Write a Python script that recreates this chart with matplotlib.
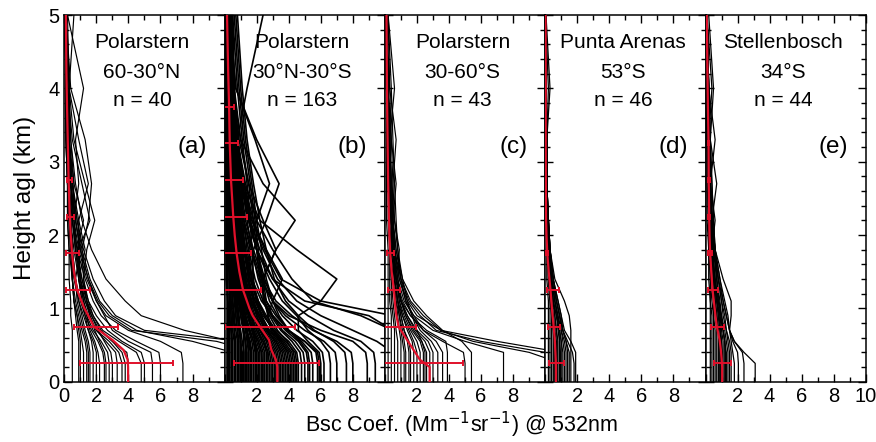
import numpy as np
import matplotlib
matplotlib.use("Agg")
import matplotlib.pyplot as plt
from matplotlib.ticker import MultipleLocator

plt.rcParams['font.family'] = ['Liberation Sans', 'DejaVu Sans']

HEIGHTS = [0, 0.25, 0.4, 0.55, 0.7, 0.9, 1.1, 1.4, 1.8, 2.2, 2.7, 3.3, 4.0, 5.0]

PROFILES_A = [
    [14, 14, 13, 11, 5.0, 3.2, 2.5, 1.8, 1.2, 0.8, 0.5, 0.3, 0.2, 0.1],
    [13, 13, 12, 9.5, 4.2, 2.8, 2.1, 1.5, 1.0, 0.7, 0.4, 0.3, 0.2, 0.1],
    [12, 12, 11.5, 10.5, 7.5, 4.8, 3.8, 2.6, 1.7, 1.1, 0.7, 0.4, 0.2, 0.1],
    [11, 11, 10.5, 8, 4.5, 3.0, 2.2, 1.6, 1.1, 0.8, 0.5, 0.3, 0.2, 0.1],
    [7.4, 7.4, 7.3, 6.0, 4.0, 2.6, 2.0, 1.4, 0.9, 0.6, 0.4, 0.3, 0.2, 0.1],
    [6.0, 6.0, 5.9, 4.5, 3.2, 2.3, 1.8, 1.3, 0.8, 0.5, 0.4, 0.3, 0.1, 0.05],
    [5.5, 5.5, 5.4, 4.0, 3.0, 2.5, 2.0, 1.5, 1.0, 0.7, 0.5, 0.3, 0.2, 0.1],
    [5.0, 5.0, 4.8, 3.6, 2.7, 2.0, 1.5, 1.1, 0.7, 0.5, 0.3, 0.2, 0.1, 0.05],
    [4.8, 4.8, 4.5, 3.4, 2.4, 1.8, 1.4, 1.0, 0.8, 1.2, 0.6, 0.3, 0.2, 0.1],
    [4.0, 4.0, 3.9, 3.0, 2.2, 1.7, 1.3, 0.9, 0.6, 0.4, 0.3, 0.2, 0.1, 0.05],
    [3.6, 3.6, 3.4, 2.8, 2.0, 1.5, 1.2, 0.9, 0.9, 1.6, 1.1, 0.5, 0.2, 0.1],
    [3.3, 3.3, 3.2, 2.6, 2.0, 1.6, 1.3, 1.0, 0.9, 0.9, 1.5, 0.9, 0.3, 0.1],
    [3.0, 3.0, 2.9, 2.5, 2.1, 1.7, 1.4, 1.1, 0.8, 0.6, 0.4, 0.3, 0.2, 0.1],
    [2.8, 2.8, 2.7, 2.3, 1.8, 1.4, 1.1, 0.9, 1.3, 0.9, 0.5, 0.3, 0.1, 0.05],
    [2.5, 2.5, 2.4, 2.1, 1.7, 1.3, 1.0, 0.7, 0.5, 0.4, 0.3, 0.2, 0.1, 0.05],
    [2.2, 2.2, 2.1, 1.9, 1.6, 1.4, 1.2, 1.0, 0.7, 0.6, 0.9, 0.7, 1.2, 0.2],
    [2.0, 2.0, 2.0, 1.8, 1.5, 1.2, 0.9, 0.6, 0.4, 0.3, 0.2, 0.15, 0.1, 0.05],
    [1.6, 1.6, 1.6, 1.5, 1.3, 1.1, 0.9, 0.7, 0.5, 0.4, 0.3, 0.2, 0.1, 0.05],
    [1.5, 1.5, 1.5, 1.4, 1.2, 1.0, 0.8, 0.7, 1.0, 0.7, 0.4, 0.2, 0.1, 0.05],
    [1.4, 1.4, 1.4, 1.3, 1.1, 0.9, 0.7, 0.5, 0.4, 0.3, 0.2, 0.1, 0.1, 0.05],
    [1.0, 1.0, 1.0, 1.0, 0.9, 0.8, 0.6, 0.5, 0.3, 0.2, 0.2, 0.1, 0.05, 0.05],
    [0.5, 0.5, 0.5, 0.5, 0.5, 0.4, 0.4, 0.3, 0.3, 0.2, 0.2, 0.1, 0.1, 0.05],
    [3.8, 3.8, 3.6, 3.0, 2.3, 1.8, 1.5, 1.2, 1.4, 1.9, 1.3, 0.6, 0.3, 0.1],
    [2.6, 2.6, 2.5, 2.2, 1.9, 1.6, 1.4, 1.2, 1.1, 1.5, 1.7, 1.3, 0.4, 0.1],
    [1.8, 1.8, 1.8, 1.7, 1.5, 1.3, 1.1, 0.9, 0.7, 0.5, 0.6, 0.4, 0.3, 0.2],
    [0.9, 0.9, 0.9, 0.9, 0.8, 0.7, 0.6, 0.5, 0.5, 0.4, 0.3, 0.3, 0.2, 0.1],
    [1.2, 1.2, 1.2, 1.1, 1.0, 0.8, 0.6, 0.5, 0.4, 0.3, 0.2, 0.3, 0.3, 0.6],
]

PROFILES_B = [
    [8.9, 8.9, 8.8, 8.0, 6.0, 4.0, 3.0, 2.2, 1.6, 1.2, 0.9, 0.6, 0.4, 0.2],
    [8.0, 8.0, 7.9, 7.0, 5.5, 4.2, 3.2, 2.4, 1.8, 1.3, 1.0, 0.7, 0.4, 0.2],
    [12, 12, 12, 11.5, 11, 10.5, 6.0, 3.5, 2.5, 1.8, 1.2, 0.8, 0.5, 0.3],
    [12, 12, 12, 11, 10.5, 9.0, 5.0, 3.0, 2.0, 1.5, 1.0, 0.7, 0.4, 0.2],
    [11, 11, 11, 11, 10.5, 8.5, 5.5, 4.2, 3.0, 2.0, 1.3, 0.8, 0.5, 0.3],
    [6.2, 6.2, 6.1, 5.5, 4.5, 3.6, 3.0, 2.3, 1.7, 1.2, 0.9, 0.6, 0.4, 0.2],
    [6.0, 6.0, 5.9, 5.2, 4.6, 4.6, 6.0, 7.0, 4.5, 2.2, 1.2, 0.7, 0.4, 0.2],
    [5.8, 5.8, 5.7, 5.0, 4.0, 3.2, 2.6, 2.4, 3.2, 4.4, 2.4, 1.0, 0.5, 0.2],
    [5.5, 5.5, 5.4, 4.8, 4.0, 3.3, 2.8, 2.4, 2.0, 1.6, 1.2, 0.8, 0.5, 0.3],
    [5.2, 5.2, 5.1, 4.6, 3.8, 3.0, 2.4, 1.9, 1.5, 1.1, 0.8, 0.6, 0.4, 0.2],
    [5.0, 5.0, 4.9, 4.4, 3.6, 3.0, 2.6, 2.1, 1.7, 1.4, 1.1, 0.8, 0.5, 0.3],
    [4.8, 4.8, 4.7, 4.2, 3.5, 2.9, 2.5, 2.2, 2.0, 1.8, 1.5, 1.0, 0.6, 0.3],
    [4.6, 4.6, 4.5, 4.0, 3.2, 2.6, 2.1, 1.6, 1.2, 0.9, 0.7, 0.5, 0.3, 0.2],
    [4.4, 4.4, 4.3, 3.9, 3.3, 2.8, 2.4, 2.4, 3.2, 2.4, 1.5, 0.9, 0.5, 0.3],
    [4.2, 4.2, 4.1, 3.6, 3.0, 2.5, 2.0, 1.6, 1.3, 1.0, 0.8, 0.6, 0.4, 0.2],
    [4.0, 4.0, 3.9, 3.5, 3.0, 2.5, 2.1, 1.7, 1.5, 2.0, 2.8, 1.9, 0.7, 0.3],
    [3.8, 3.8, 3.7, 3.3, 2.8, 2.3, 1.9, 1.5, 1.2, 0.9, 0.7, 0.5, 0.3, 0.2],
    [3.6, 3.6, 3.5, 3.2, 2.7, 2.3, 2.0, 1.7, 1.4, 1.2, 1.0, 0.7, 0.4, 0.2],
    [3.4, 3.4, 3.3, 3.0, 2.6, 2.2, 1.8, 1.4, 1.1, 0.8, 0.6, 0.4, 0.3, 0.2],
    [3.3, 3.3, 3.2, 2.9, 2.5, 2.1, 1.8, 1.5, 1.2, 1.0, 0.8, 0.6, 0.4, 0.3],
    [3.2, 3.2, 3.1, 2.8, 2.4, 2.0, 1.7, 1.3, 1.0, 0.8, 0.6, 0.4, 0.3, 0.2],
    [3.0, 3.0, 2.9, 2.7, 2.3, 1.9, 1.6, 1.3, 1.1, 0.9, 0.7, 0.5, 0.3, 0.2],
    [2.9, 2.9, 2.8, 2.6, 2.3, 2.0, 1.8, 1.7, 1.8, 2.6, 3.4, 2.0, 0.7, 0.3],
    [2.8, 2.8, 2.7, 2.5, 2.2, 1.8, 1.5, 1.2, 0.9, 0.7, 0.5, 0.4, 0.3, 0.2],
    [2.6, 2.6, 2.6, 2.4, 2.1, 1.8, 1.5, 1.2, 1.0, 0.8, 0.6, 0.5, 0.3, 0.2],
    [2.5, 2.5, 2.5, 2.3, 2.0, 1.7, 1.4, 1.1, 0.9, 0.7, 0.6, 0.4, 0.3, 0.2],
    [2.4, 2.4, 2.4, 2.2, 1.9, 1.6, 1.3, 1.0, 0.8, 0.6, 0.5, 0.4, 0.3, 0.2],
    [2.2, 2.2, 2.2, 2.0, 1.8, 1.5, 1.3, 1.1, 0.9, 0.8, 0.6, 0.5, 0.3, 0.2],
    [2.1, 2.1, 2.1, 1.9, 1.7, 1.4, 1.2, 1.0, 0.8, 0.6, 0.5, 0.4, 0.3, 0.1],
    [2.0, 2.0, 2.0, 1.9, 1.7, 1.5, 1.3, 1.2, 1.1, 1.0, 0.9, 0.7, 0.5, 0.3],
    [1.9, 1.9, 1.9, 1.8, 1.6, 1.3, 1.1, 0.9, 0.7, 0.6, 0.5, 0.3, 0.2, 0.1],
    [1.8, 1.8, 1.8, 1.7, 1.5, 1.3, 1.1, 0.9, 0.8, 0.7, 0.6, 0.5, 0.4, 0.3],
    [1.7, 1.7, 1.7, 1.6, 1.4, 1.2, 1.0, 0.8, 0.6, 0.5, 0.4, 0.3, 0.2, 0.1],
    [1.6, 1.6, 1.6, 1.5, 1.4, 1.2, 1.1, 1.0, 0.9, 0.8, 0.7, 0.6, 0.5, 0.4],
    [1.5, 1.5, 1.5, 1.4, 1.3, 1.1, 0.9, 0.8, 0.6, 0.5, 0.4, 0.3, 0.2, 0.1],
    [1.4, 1.4, 1.4, 1.3, 1.2, 1.0, 0.9, 0.7, 0.6, 0.5, 0.4, 0.3, 0.2, 0.2],
    [1.3, 1.3, 1.3, 1.3, 1.2, 1.1, 1.0, 0.9, 0.8, 0.7, 0.6, 0.5, 0.4, 0.3],
    [1.2, 1.2, 1.2, 1.1, 1.0, 0.9, 0.8, 0.7, 0.6, 0.5, 0.4, 0.3, 0.2, 0.1],
    [1.1, 1.1, 1.1, 1.0, 0.9, 0.8, 0.7, 0.6, 0.5, 0.4, 0.4, 0.3, 0.3, 0.2],
    [1.0, 1.0, 1.0, 1.0, 0.9, 0.8, 0.7, 0.6, 0.5, 0.4, 0.3, 0.2, 0.2, 0.1],
    [0.9, 0.9, 0.9, 0.9, 0.8, 0.7, 0.6, 0.5, 0.4, 0.4, 0.3, 0.3, 0.2, 0.2],
    [0.8, 0.8, 0.8, 0.8, 0.7, 0.6, 0.5, 0.5, 0.4, 0.3, 0.3, 0.2, 0.2, 0.1],
    [0.7, 0.7, 0.7, 0.7, 0.6, 0.6, 0.5, 0.4, 0.4, 0.3, 0.3, 0.2, 0.2, 0.1],
    [0.6, 0.6, 0.6, 0.6, 0.5, 0.5, 0.4, 0.4, 0.3, 0.3, 0.2, 0.2, 0.1, 0.1],
    [0.5, 0.5, 0.5, 0.5, 0.4, 0.4, 0.4, 0.3, 0.3, 0.2, 0.2, 0.2, 0.1, 0.1],
    [0.4, 0.4, 0.4, 0.4, 0.4, 0.3, 0.3, 0.3, 0.2, 0.2, 0.2, 0.1, 0.1, 0.1],
    [0.3, 0.3, 0.3, 0.3, 0.3, 0.3, 0.2, 0.2, 0.2, 0.2, 0.1, 0.1, 0.1, 0.05],
    [0.2, 0.2, 0.2, 0.2, 0.2, 0.2, 0.2, 0.1, 0.1, 0.1, 0.1, 0.1, 0.05, 0.05],
    [3.9, 3.9, 3.8, 3.4, 2.9, 2.7, 3.0, 3.6, 2.6, 1.7, 1.0, 0.6, 0.3, 0.2],
    [7.0, 7.0, 6.9, 6.2, 5.0, 3.8, 3.0, 2.5, 2.0, 1.5, 1.1, 0.8, 0.6, 0.3],
    [2.3, 2.3, 2.3, 2.1, 1.8, 1.5, 1.3, 1.1, 0.9, 0.8, 0.7, 0.8, 1.4, 2.4],
    [9.4, 9.4, 9.3, 8.5, 6.8, 5.2, 4.0, 3.0, 2.2, 1.6, 1.1, 0.8, 0.5, 0.3],
    [6.6, 6.6, 6.5, 6.0, 5.2, 4.5, 3.6, 2.8, 2.0, 1.5, 1.1, 0.8, 0.5, 0.3],
    [11, 11, 10.5, 9.5, 8.0, 6.0, 4.5, 3.3, 2.4, 1.7, 1.2, 0.8, 0.5, 0.3],
    [3.5, 3.5, 3.4, 3.1, 2.7, 2.3, 2.0, 1.8, 1.7, 1.6, 1.4, 1.1, 0.8, 0.5],
    [5.9, 5.9, 5.8, 5.0, 3.9, 3.0, 2.3, 1.7, 1.3, 1.0, 0.8, 0.6, 0.4, 0.3],
    [4.5, 4.5, 4.4, 3.8, 3.1, 2.4, 1.9, 1.4, 1.0, 0.8, 0.6, 0.5, 0.35, 0.25],
    [4.1, 4.1, 4.0, 3.5, 2.8, 2.2, 1.7, 1.3, 1.0, 0.75, 0.55, 0.45, 0.35, 0.2],
    [3.7, 3.7, 3.6, 3.2, 2.6, 2.1, 1.6, 1.25, 0.95, 0.7, 0.5, 0.4, 0.3, 0.2],
    [3.1, 3.1, 3.0, 2.7, 2.2, 1.8, 1.4, 1.1, 0.85, 0.65, 0.5, 0.4, 0.3, 0.2],
    [2.7, 2.7, 2.7, 2.4, 2.0, 1.6, 1.3, 1.0, 0.8, 0.6, 0.45, 0.35, 0.25, 0.15],
    [2.35, 2.35, 2.3, 2.1, 1.8, 1.5, 1.2, 0.95, 0.75, 0.55, 0.45, 0.35, 0.25, 0.15],
    [1.95, 1.95, 1.95, 1.8, 1.55, 1.3, 1.05, 0.85, 0.65, 0.5, 0.4, 0.3, 0.2, 0.15],
    [1.65, 1.65, 1.65, 1.55, 1.35, 1.15, 0.95, 0.75, 0.6, 0.45, 0.35, 0.25, 0.2, 0.1],
    [1.35, 1.35, 1.35, 1.3, 1.15, 1.0, 0.85, 0.7, 0.55, 0.45, 0.35, 0.3, 0.25, 0.2],
    [1.05, 1.05, 1.05, 1.0, 0.95, 0.85, 0.75, 0.65, 0.55, 0.45, 0.4, 0.35, 0.3, 0.25],
    [0.85, 0.85, 0.85, 0.85, 0.8, 0.7, 0.65, 0.55, 0.5, 0.45, 0.4, 0.35, 0.3, 0.2],
    [0.65, 0.65, 0.65, 0.65, 0.6, 0.55, 0.5, 0.45, 0.4, 0.35, 0.3, 0.25, 0.2, 0.15],
    [0.45, 0.45, 0.45, 0.45, 0.45, 0.4, 0.35, 0.35, 0.3, 0.25, 0.25, 0.2, 0.15, 0.1],
    [0.25, 0.25, 0.25, 0.25, 0.25, 0.25, 0.2, 0.2, 0.2, 0.15, 0.15, 0.1, 0.1, 0.08],
    [0.15, 0.15, 0.15, 0.15, 0.15, 0.15, 0.15, 0.15, 0.1, 0.1, 0.1, 0.08, 0.06, 0.04],
    [2.0, 2.0, 2.0, 1.9, 1.8, 1.7, 1.6, 1.5, 1.3, 1.1, 0.9, 0.7, 0.6, 0.5],
    [1.5, 1.5, 1.5, 1.45, 1.4, 1.3, 1.2, 1.1, 1.0, 0.9, 0.8, 0.7, 0.6, 0.45],
    [1.2, 1.2, 1.2, 1.2, 1.15, 1.1, 1.05, 1.0, 0.9, 0.8, 0.7, 0.6, 0.5, 0.4],
    [4.3, 4.3, 4.2, 3.7, 3.0, 2.7, 2.5, 2.3, 2.1, 1.9, 1.6, 1.2, 0.9, 0.6],
    [5.3, 5.3, 5.2, 4.7, 4.0, 3.4, 3.0, 2.6, 2.3, 2.0, 1.7, 1.3, 1.0, 0.7],
    [7.6, 7.6, 7.5, 6.8, 5.6, 4.6, 3.8, 3.1, 2.6, 2.2, 1.8, 1.4, 1.1, 0.8],
]

PROFILES_C = [
    [12, 12, 11, 7.0, 3.5, 2.0, 1.4, 0.9, 0.6, 0.4, 0.3, 0.2, 0.1, 0.05],
    [12, 12, 10, 6.0, 3.2, 2.2, 1.5, 1.0, 0.7, 0.5, 0.3, 0.2, 0.1, 0.05],
    [11, 11, 9.0, 5.5, 3.5, 2.4, 1.6, 1.0, 0.6, 0.4, 0.3, 0.2, 0.1, 0.05],
    [7.4, 7.4, 7.4, 5.0, 3.0, 1.8, 1.2, 0.8, 0.5, 0.4, 0.3, 0.2, 0.1, 0.05],
    [5.4, 5.4, 5.4, 4.8, 3.6, 2.6, 1.8, 1.1, 0.7, 0.5, 0.4, 0.3, 0.2, 0.1],
    [5.0, 5.0, 4.9, 3.6, 2.4, 1.6, 1.1, 0.7, 0.5, 0.4, 0.3, 0.2, 0.1, 0.05],
    [3.9, 3.9, 3.9, 3.8, 2.6, 1.6, 1.0, 0.7, 0.5, 0.4, 0.3, 0.2, 0.1, 0.05],
    [3.6, 3.6, 3.6, 3.2, 2.4, 1.8, 1.3, 0.9, 0.6, 0.5, 0.4, 0.3, 0.2, 0.1],
    [3.0, 3.0, 3.0, 2.7, 2.0, 1.4, 1.0, 0.7, 0.5, 0.4, 0.3, 0.2, 0.2, 0.1],
    [2.8, 2.8, 2.8, 2.5, 1.9, 1.4, 1.0, 0.8, 0.6, 0.5, 0.7, 0.4, 0.2, 0.1],
    [2.6, 2.6, 2.6, 2.3, 1.8, 1.3, 1.0, 0.7, 0.5, 0.4, 0.3, 0.3, 0.2, 0.1],
    [2.4, 2.4, 2.4, 2.2, 1.7, 1.3, 1.0, 0.8, 0.9, 0.6, 0.4, 0.3, 0.2, 0.1],
    [2.2, 2.2, 2.2, 2.0, 1.6, 1.2, 0.9, 0.7, 0.5, 0.4, 0.3, 0.3, 0.6, 0.2],
    [2.0, 2.0, 2.0, 1.8, 1.5, 1.1, 0.8, 0.6, 0.5, 0.4, 0.3, 0.2, 0.2, 0.1],
    [1.8, 1.8, 1.8, 1.7, 1.4, 1.1, 0.9, 0.7, 0.6, 0.5, 0.4, 0.3, 0.2, 0.1],
    [1.6, 1.6, 1.6, 1.5, 1.2, 1.0, 0.8, 0.6, 0.5, 0.4, 0.5, 0.4, 0.3, 0.2],
    [1.5, 1.5, 1.5, 1.4, 1.2, 1.0, 0.8, 0.6, 0.5, 0.4, 0.3, 0.2, 0.1, 0.1],
    [1.3, 1.3, 1.3, 1.2, 1.1, 0.9, 0.8, 0.6, 0.5, 0.4, 0.3, 0.2, 0.2, 0.1],
    [1.2, 1.2, 1.2, 1.1, 1.0, 0.9, 0.7, 0.6, 0.4, 0.4, 0.3, 0.3, 0.2, 0.1],
    [1.0, 1.0, 1.0, 1.0, 0.9, 0.8, 0.7, 0.5, 0.4, 0.3, 0.3, 0.2, 0.2, 0.1],
    [0.8, 0.8, 0.8, 0.8, 0.7, 0.6, 0.5, 0.4, 0.3, 0.3, 0.2, 0.2, 0.1, 0.1],
    [0.6, 0.6, 0.6, 0.6, 0.6, 0.5, 0.4, 0.4, 0.3, 0.3, 0.2, 0.2, 0.1, 0.1],
    [0.4, 0.4, 0.4, 0.4, 0.4, 0.4, 0.3, 0.3, 0.3, 0.2, 0.2, 0.1, 0.1, 0.05],
    [0.2, 0.2, 0.2, 0.2, 0.2, 0.2, 0.2, 0.2, 0.2, 0.1, 0.1, 0.1, 0.1, 0.05],
    [3.3, 3.3, 3.3, 2.9, 2.2, 1.7, 1.3, 1.0, 0.8, 0.7, 0.6, 0.5, 0.4, 0.2],
    [2.5, 2.5, 2.5, 2.3, 2.0, 1.7, 1.4, 1.1, 0.8, 0.6, 0.5, 0.7, 0.3, 0.1],
]

PROFILES_D = [
    [1.9, 1.9, 1.9, 1.6, 1.2, 1.0, 0.8, 0.5, 0.3, 0.2, 0.1, 0.1, 0.05, 0.02],
    [1.6, 1.6, 1.6, 1.6, 1.6, 1.5, 1.2, 0.6, 0.3, 0.2, 0.1, 0.1, 0.05, 0.02],
    [1.8, 1.8, 1.7, 1.4, 1.1, 0.9, 0.7, 0.4, 0.2, 0.1, 0.1, 0.05, 0.05, 0.02],
    [1.5, 1.5, 1.5, 1.3, 1.1, 0.9, 0.7, 0.5, 0.3, 0.2, 0.1, 0.1, 0.05, 0.02],
    [1.4, 1.4, 1.4, 1.3, 1.1, 1.0, 0.8, 0.5, 0.3, 0.2, 0.1, 0.1, 0.05, 0.02],
    [1.3, 1.3, 1.3, 1.2, 1.0, 0.9, 0.7, 0.5, 0.3, 0.2, 0.1, 0.05, 0.05, 0.02],
    [1.2, 1.2, 1.2, 1.1, 1.0, 0.8, 0.6, 0.4, 0.2, 0.1, 0.1, 0.1, 0.3, 0.05],
    [1.1, 1.1, 1.1, 1.0, 0.9, 0.8, 0.6, 0.4, 0.3, 0.2, 0.1, 0.1, 0.05, 0.02],
    [1.0, 1.0, 1.0, 1.0, 0.9, 0.7, 0.5, 0.3, 0.2, 0.1, 0.1, 0.05, 0.05, 0.02],
    [0.9, 0.9, 0.9, 0.9, 0.8, 0.7, 0.5, 0.3, 0.2, 0.1, 0.1, 0.05, 0.05, 0.02],
    [0.8, 0.8, 0.8, 0.8, 0.7, 0.6, 0.5, 0.3, 0.2, 0.1, 0.1, 0.05, 0.05, 0.02],
    [0.7, 0.7, 0.7, 0.7, 0.6, 0.5, 0.4, 0.3, 0.2, 0.1, 0.05, 0.05, 0.05, 0.02],
    [0.6, 0.6, 0.6, 0.6, 0.6, 0.5, 0.4, 0.3, 0.2, 0.1, 0.1, 0.05, 0.02, 0.02],
    [0.5, 0.5, 0.5, 0.5, 0.5, 0.4, 0.4, 0.3, 0.2, 0.1, 0.1, 0.05, 0.02, 0.02],
    [0.4, 0.4, 0.4, 0.4, 0.4, 0.4, 0.3, 0.2, 0.2, 0.1, 0.05, 0.05, 0.02, 0.02],
    [0.3, 0.3, 0.3, 0.3, 0.3, 0.3, 0.3, 0.2, 0.1, 0.1, 0.05, 0.05, 0.02, 0.02],
    [0.2, 0.2, 0.2, 0.2, 0.2, 0.2, 0.2, 0.1, 0.1, 0.05, 0.05, 0.02, 0.02, 0.02],
    [0.95, 0.95, 0.95, 0.9, 0.85, 0.75, 0.6, 0.4, 0.25, 0.15, 0.1, 0.05, 0.05, 0.02],
    [0.75, 0.75, 0.75, 0.75, 0.7, 0.6, 0.5, 0.35, 0.2, 0.1, 0.05, 0.05, 0.05, 0.02],
    [0.55, 0.55, 0.55, 0.55, 0.5, 0.45, 0.4, 0.3, 0.2, 0.1, 0.1, 0.1, 0.2, 0.02],
]

PROFILES_E = [
    [3.1, 3.1, 2.4, 1.8, 1.5, 1.3, 1.1, 0.8, 0.5, 0.4, 0.3, 0.2, 0.2, 0.1],
    [2.4, 2.4, 2.3, 1.8, 1.5, 1.3, 1.1, 0.9, 0.6, 0.5, 0.4, 0.3, 0.2, 0.1],
    [2.05, 2.05, 2.0, 1.7, 1.5, 1.4, 1.2, 0.9, 0.6, 0.4, 0.3, 0.2, 0.1, 0.1],
    [1.8, 1.8, 1.7, 1.6, 1.5, 1.6, 1.6, 1.1, 0.6, 0.4, 0.3, 0.3, 0.2, 0.1],
    [1.6, 1.6, 1.6, 1.5, 1.3, 1.2, 1.0, 0.8, 0.6, 0.5, 0.4, 0.3, 0.5, 0.2],
    [1.5, 1.5, 1.5, 1.4, 1.3, 1.1, 1.0, 0.8, 0.5, 0.4, 0.7, 0.3, 0.2, 0.1],
    [1.4, 1.4, 1.4, 1.3, 1.2, 1.0, 0.9, 0.7, 0.5, 0.4, 0.3, 0.2, 0.2, 0.1],
    [1.3, 1.3, 1.3, 1.2, 1.1, 1.0, 0.8, 0.7, 0.6, 0.4, 0.3, 0.6, 0.2, 0.1],
    [1.2, 1.2, 1.2, 1.2, 1.1, 0.9, 0.8, 0.6, 0.4, 0.3, 0.3, 0.2, 0.1, 0.1],
    [1.1, 1.1, 1.1, 1.1, 1.0, 0.9, 0.7, 0.6, 0.4, 0.6, 0.3, 0.2, 0.1, 0.1],
    [1.0, 1.0, 1.0, 1.0, 0.9, 0.8, 0.7, 0.5, 0.4, 0.3, 0.2, 0.2, 0.1, 0.05],
    [0.9, 0.9, 0.9, 0.9, 0.8, 0.7, 0.6, 0.5, 0.4, 0.3, 0.2, 0.2, 0.4, 0.1],
    [0.8, 0.8, 0.8, 0.8, 0.8, 0.7, 0.6, 0.5, 0.4, 0.3, 0.3, 0.2, 0.1, 0.05],
    [0.7, 0.7, 0.7, 0.7, 0.7, 0.6, 0.5, 0.4, 0.3, 0.3, 0.2, 0.2, 0.1, 0.05],
    [0.6, 0.6, 0.6, 0.6, 0.6, 0.5, 0.5, 0.4, 0.3, 0.2, 0.2, 0.1, 0.1, 0.05],
    [0.5, 0.5, 0.5, 0.5, 0.5, 0.5, 0.4, 0.3, 0.3, 0.2, 0.2, 0.1, 0.1, 0.05],
    [0.4, 0.4, 0.4, 0.4, 0.4, 0.4, 0.3, 0.3, 0.2, 0.2, 0.1, 0.1, 0.1, 0.05],
    [0.3, 0.3, 0.3, 0.3, 0.3, 0.3, 0.3, 0.2, 0.2, 0.1, 0.1, 0.1, 0.05, 0.05],
    [1.25, 1.25, 1.25, 1.2, 1.1, 0.95, 0.85, 0.7, 0.5, 0.35, 0.25, 0.2, 0.15, 0.1],
    [1.05, 1.05, 1.05, 1.0, 0.95, 0.85, 0.75, 0.6, 0.45, 0.35, 0.3, 0.25, 0.2, 0.1],
    [0.95, 0.95, 0.95, 0.95, 0.9, 0.8, 0.7, 0.55, 0.4, 0.3, 0.25, 0.2, 0.15, 0.1],
    [0.85, 0.85, 0.85, 0.85, 0.8, 0.7, 0.6, 0.5, 0.35, 0.3, 0.25, 0.2, 0.15, 0.1],
]

# mean profiles (red)
MEAN_HEIGHTS = [0, 0.2, 0.3, 0.43, 0.57, 0.75, 0.9, 1.0, 1.25, 1.5, 1.75, 2.0, 2.25, 2.75, 3.25, 3.75, 4.25, 5.0]
MEAN_A = [3.98, 3.98, 3.95, 3.7, 3.0, 1.85, 1.5, 1.25, 0.8, 0.6, 0.48, 0.4, 0.34, 0.27, 0.22, 0.17, 0.13, 0.1]
MEAN_B = [3.29, 3.29, 3.2, 2.92, 2.77, 2.2, 1.75, 1.55, 1.15, 0.92, 0.75, 0.63, 0.54, 0.4, 0.32, 0.28, 0.22, 0.15]
MEAN_C = [2.79, 2.79, 2.18, 1.8, 1.38, 0.85, 0.72, 0.66, 0.56, 0.42, 0.33, 0.28, 0.25, 0.2, 0.17, 0.14, 0.12, 0.1]
MEAN_D = [0.67, 0.67, 0.66, 0.63, 0.6, 0.53, 0.46, 0.42, 0.33, 0.22, 0.13, 0.08, 0.05, 0.04, 0.03, 0.03, 0.03, 0.02]
MEAN_E = [1.04, 1.04, 1.01, 0.96, 0.88, 0.71, 0.62, 0.57, 0.44, 0.36, 0.29, 0.25, 0.23, 0.2, 0.19, 0.15, 0.12, 0.08]

# error bars (layer mean +- std)
BAR_HEIGHTS = [0.25, 0.75, 1.25, 1.75, 2.25, 2.75, 3.25, 3.75]
BAR_A = [3.9, 1.95, 0.85, 0.51, 0.37, 0.32]
STD_A = [2.9, 1.37, 0.73, 0.39, 0.21, 0.16]
BAR_B = [3.25, 2.2, 1.1, 0.75, 0.54, 0.4, 0.3, 0.28]
STD_B = [2.65, 2.2, 1.17, 0.89, 0.84, 0.77, 0.55, 0.32]
BAR_C = [2.35, 0.87, 0.57, 0.33]
STD_C = [2.55, 1.08, 0.35, 0.23]
BAR_D = [0.71, 0.57, 0.5, 0.13]
STD_D = [0.46, 0.38, 0.37, 0.05]
BAR_E = [1.04, 0.75, 0.46, 0.3, 0.23, 0.2, 0.19]
STD_E = [0.54, 0.42, 0.29, 0.12, 0.07, 0.05, 0.04]

PLACES = ['Polarstern', 'Polarstern', 'Polarstern', 'Punta Arenas', 'Stellenbosch']
REGIONS = ['60-30°N', '30°N-30°S', '30-60°S', '53°S', '34°S']
COUNTS = [40, 163, 43, 46, 44]
TAGS = ['(a)', '(b)', '(c)', '(d)', '(e)']
XTICKS = [0, 2, 4, 6, 8, 10]
XTICK_LABELS = [
    ['0', '2', '4', '6', '8', ''],
    ['', '2', '4', '6', '8', ''],
    ['', '2', '4', '6', '8', ''],
    ['', '2', '4', '6', '8', ''],
    ['', '2', '4', '6', '8', '10'],
]

profiles = [PROFILES_A, PROFILES_B, PROFILES_C, PROFILES_D, PROFILES_E]
means = [MEAN_A, MEAN_B, MEAN_C, MEAN_D, MEAN_E]
bars = [BAR_A, BAR_B, BAR_C, BAR_D, BAR_E]
stds = [STD_A, STD_B, STD_C, STD_D, STD_E]
line_w = [0.85, 1.2, 0.85, 0.9, 0.9]

RED = '#e0102a'

fig = plt.figure(figsize=(8.76, 4.42), dpi=100)
W, H = 876, 442
ax_w = 160.3
for i in range(5):
    left = 64.3 + i * ax_w
    ax = fig.add_axes([left / W, (H - 381.7) / H, ax_w / W, 366.7 / H])

    for p in profiles[i]:
        ax.plot(p, HEIGHTS, color='black', lw=line_w[i], zorder=2)

    ax.plot(means[i], MEAN_HEIGHTS, color=RED, lw=1.6, zorder=4)
    nb = len(bars[i])
    ax.errorbar(bars[i], BAR_HEIGHTS[:nb], xerr=stds[i], fmt='none',
                ecolor=RED, elinewidth=1.4, capsize=2.4, capthick=1.4, zorder=5)

    ax.set_xlim(0, 10)
    ax.set_ylim(0, 5)
    ax.set_xticks(XTICKS)
    ax.set_xticklabels(XTICK_LABELS[i])
    ax.xaxis.set_minor_locator(MultipleLocator(1))
    ax.yaxis.set_major_locator(MultipleLocator(1))
    ax.yaxis.set_minor_locator(MultipleLocator(0.2))
    ax.tick_params(which='both', direction='in', top=True, right=True,
                   labelsize=14.5, width=1.0)
    ax.tick_params(which='major', length=6)
    ax.tick_params(which='minor', length=3.5)
    if i > 0:
        ax.set_yticklabels([])
    for s in ax.spines.values():
        s.set_linewidth(1.1)

    ax.text(4.85, 4.62, PLACES[i], ha='center', va='center', fontsize=15)
    ax.text(4.85, 4.22, REGIONS[i], ha='center', va='center', fontsize=15)
    ax.text(4.85, 3.84, f'n = {COUNTS[i]}', ha='center', va='center', fontsize=15)
    ax.text(8.9, 3.2, TAGS[i], ha='right', va='center', fontsize=17.5)

fig.text(25 / W, 1 - 198 / H, 'Height agl (km)', rotation=90,
         ha='center', va='center', fontsize=17.5)
fig.text(462 / W, 1 - 425 / H, 'Bsc Coef. (Mm$^{-1}$sr$^{-1}$) @ 532nm',
         ha='center', va='center', fontsize=15.5)

fig.savefig('out.png', dpi=100)
